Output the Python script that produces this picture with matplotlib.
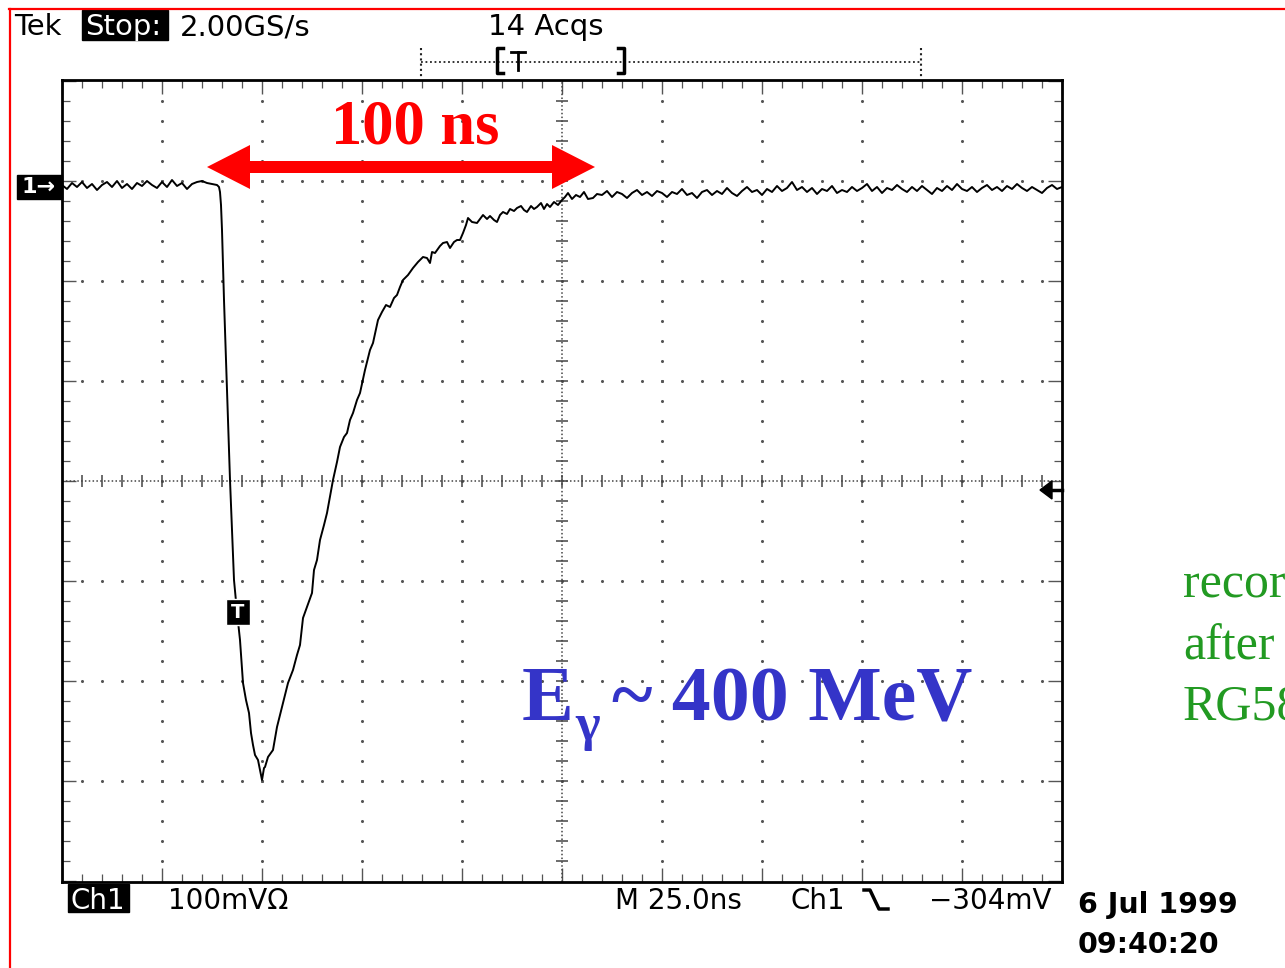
import numpy as np
import matplotlib.pyplot as plt
import matplotlib.patches as mpatches
from matplotlib.lines import Line2D
from matplotlib.transforms import Affine2D

W, H = 1285, 968

# scope trace: time in ns (25 ns/div), signal in mV (100 mV/div, 0 = screen centre)
base_t = [0, 1.25, 2.5, 3.75, 5, 6.25, 7.5, 8.75, 10, 11.25, 12.5, 13.75, 15, 16.25, 17.5, 18.75,
          20, 21.25, 22.5, 23.75, 25, 26.25, 27.5, 28.75, 30, 31.25, 32.5, 33.75, 35, 36.25, 37.5, 38.75]
base_v = [296, 292, 298, 294, 299, 293, 297, 291, 296, 299, 294, 300, 293, 297, 292, 298,
          295, 300, 296, 293, 299, 294, 301, 295, 298, 292, 297, 299, 300, 298, 297, 296]

pulse_t = [39.25, 39.5, 39.75, 40.0, 40.5, 41.0, 41.5, 42.0, 42.5, 43.0, 43.75, 44.5, 45.25, 46.0,
           46.75, 47.25, 47.75, 48.25, 49.0, 49.5, 50.0, 50.5, 50.75, 51.5, 52.75, 53.75, 55.0,
           55.75, 56.5, 57.75, 58.75, 59.5, 60.25, 61.25, 62.5, 63.0, 63.75, 64.5, 65.5, 66.25,
           67.75, 68.75, 69.5, 70.5, 71.25, 72.0, 72.75, 73.75, 74.5, 75.75, 77.0, 77.75, 79.0,
           80.0, 81.0, 82.0, 83.0, 83.75, 84.5, 85.25, 86.5, 87.75, 89.0, 90.25, 91.25, 92.0,
           92.5, 93.25, 94.5, 95.25, 96.25, 97.0, 98.0, 98.75, 99.5, 100.25, 101.0, 101.5, 102.5,
           103.75, 104.5, 105.25, 106.25, 107.0, 108.0, 108.75, 109.5, 110.25, 111.25, 112.0,
           113.0, 113.75, 114.75, 115.5, 116.25, 117.25, 118.0, 118.75, 119.75, 120.5, 121.25,
           122.0, 123.0, 124.0, 125.0, 125.75, 126.5, 127.5, 128.5, 129.5, 130.5, 131.5, 132.75,
           133.75]
pulse_v = [294, 289, 276, 251, 181, 121, 61, 1, -49, -99, -131, -159, -202, -219,
           -232, -252, -264, -274, -279, -289, -299, -287, -286, -276, -269, -246, -226,
           -214, -202, -189, -174, -164, -137, -126, -112, -89, -79, -59, -44, -32,
           1, 19, 34, 44, 48, 61, 68, 81, 88, 111, 131, 138, 161,
           169, 176, 174, 183, 186, 194, 201, 206, 213, 219, 224, 223, 218,
           229, 228, 235, 238, 239, 233, 239, 241, 241, 248, 256, 263, 259,
           258, 262, 266, 262, 265, 261, 259, 266, 269, 267, 272,
           270, 273, 275, 271, 269, 275, 272, 274, 278, 272, 277,
           274, 279, 276, 281, 284, 288, 282, 286, 284, 289, 282, 283,
           287]

tail_t = [135, 136.25, 137.5, 138.75, 140, 141.25, 142.5, 143.75, 145, 146.25, 147.5, 148.75,
          150, 151.25, 152.5, 153.75, 155, 156.25, 157.5, 158.75, 160, 161.25, 162.5, 163.75,
          165, 166.25, 167.5, 168.75, 170, 171.25, 172.5, 173.75, 175, 176.25, 177.5, 178.75,
          180, 181.25, 182.5, 183.75, 185, 186.25, 187.5, 188.75, 190, 191.25, 192.5, 193.75,
          195, 196.25, 197.5, 198.75, 200, 201.25, 202.5, 203.75, 205, 206.25, 207.5, 208.75,
          210, 211.25, 212.5, 213.75, 215, 216.25, 217.5, 218.75, 220, 221.25, 222.5, 223.75,
          225, 226.25, 227.5, 228.75, 230, 231.25, 232.5, 233.75, 235, 236.25, 237.5, 238.75,
          240, 241.25, 242.5, 243.75, 245, 246.25, 247.5, 248.75, 250]
tail_v = [286, 290, 284, 289, 287, 283, 288, 291, 286, 289, 285, 290,
          288, 284, 289, 287, 292, 286, 288, 283, 289, 291, 286, 290,
          287, 293, 288, 285, 290, 294, 289, 291, 286, 292, 289, 295,
          290, 293, 299, 291, 294, 289, 293, 287, 292, 290, 295, 288,
          291, 289, 294, 290, 293, 297, 290, 294, 288, 293, 291, 296,
          292, 289, 294, 290, 295, 291, 287, 293, 290, 295, 291, 297,
          292, 290, 294, 289, 293, 296, 291, 294, 290, 295, 292, 297,
          293, 290, 294, 291, 288, 293, 296, 292, 294]

# labels on the scope screen and on the slide
header_tek = "Tek"
header_state = "Stop:"
header_rate = "2.00GS/s"
header_acqs = "14 Acqs"
ch_label = "Ch1"
ch_scale = "100mVΩ"
time_base = "M 25.0ns"
trig_src = "Ch1"
trig_level = "−304mV"
date_lines = ["6 Jul 1999", "09:40:20"]
span_label = "100 ns"
energy_label = "~ 400 MeV"
note_lines = ["recorded", "after", "RG58"]

t = np.concatenate([base_t, pulse_t, tail_t])
v = np.concatenate([base_v, pulse_v, tail_v])

fig = plt.figure(figsize=(W / 100, H / 100), dpi=100)
fig.patch.set_facecolor('white')
# pixel coordinates measured from the top-left corner
pix = Affine2D().scale(1.0 / W, -1.0 / H).translate(0, 1) + fig.transFigure

ax = fig.add_axes([62 / W, 1 - 882 / H, 1000 / W, 802 / H])
ax.set_xlim(0, 250)
ax.set_ylim(-401, 401)
for s in ax.spines.values():
    s.set_linewidth(2)
ax.set_xticks(np.arange(0, 251, 25))
ax.set_xticks(np.arange(0, 251, 5), minor=True)
ax.set_yticks(np.arange(-400, 401, 100))
ax.set_yticks(np.arange(-400, 401, 20), minor=True)
ax.tick_params(which='both', direction='in', top=True, right=True,
               labelbottom=False, labelleft=False, color='#555')
ax.tick_params(which='major', length=10, width=1.0)
ax.tick_params(which='minor', length=6, width=0.9)

# graticule dots
gx = [x for x in np.arange(25, 250, 25) if x != 125]
gy = np.arange(-380, 400, 20)
xx, yy = np.meshgrid(gx, gy)
ax.plot(xx.ravel(), yy.ravel(), ls='none', marker='o', ms=2.2, mew=0, color='#555')
hy = [y for y in np.arange(-300, 301, 100) if y != 0]
hx = np.arange(5, 250, 5)
xx, yy = np.meshgrid(hx, hy)
ax.plot(xx.ravel(), yy.ravel(), ls='none', marker='o', ms=2.2, mew=0, color='#555')

# centre cross with tick marks
ax.plot([0, 250], [0, 0], ls=(0, (1, 1.5)), lw=1.1, color='#444')
ax.plot([125, 125], [-401, 401], ls=(0, (1, 1.5)), lw=1.1, color='#444')
ax.plot(hx, np.zeros(len(hx)), ls='none', marker='|', ms=9, mew=1.1, color='#444')
ax.plot(np.full(len(gy), 125), gy, ls='none', marker='_', ms=9, mew=1.1, color='#444')

# trace
ax.plot(t, v, color='black', lw=1.4)

# red double arrow spanning 100 ns
L, R, y0 = 36.25, 133.25, 314
hl, hw, sw = 10.75, 22, 6
arrow = mpatches.Polygon([(L, y0), (L + hl, y0 + hw), (L + hl, y0 + sw), (R - hl, y0 + sw),
                          (R - hl, y0 + hw), (R, y0), (R - hl, y0 - hw), (R - hl, y0 - sw),
                          (L + hl, y0 - sw), (L + hl, y0 - hw)],
                         closed=True, color='red', lw=0, clip_on=False, zorder=5)
ax.add_patch(arrow)
ax.text(88.25, 338, span_label, ha='center', va='baseline', fontsize=45,
        family='Liberation Serif', weight='bold', color='red', zorder=6)

# energy label
blue = '#3434c8'
fig.text(522, 720, "E", transform=pix, fontsize=56, family='Liberation Serif',
         weight='bold', color=blue, va='baseline')
fig.text(575, 740, "γ", transform=pix, fontsize=38, family='Liberation Serif',
         weight='bold', color=blue, va='baseline')
fig.text(612, 720, energy_label, transform=pix, fontsize=56, family='Liberation Serif',
         weight='bold', color=blue, va='baseline')

# green note, cut off by the page edge as on the slide
for i, line in enumerate(note_lines):
    fig.text(1183, 598 + 61 * i, line, transform=pix, fontsize=36, family='Liberation Serif',
             color='#229a22', va='baseline')

# red page frame
fig.add_artist(Line2D([9, W], [9, 9], transform=pix, color='red', lw=1.6))
fig.add_artist(Line2D([10, 10], [9, H], transform=pix, color='red', lw=1.6))

# header
fig.text(14, 35, header_tek, transform=pix, fontsize=21, va='baseline')
fig.add_artist(mpatches.Rectangle((82, 10), 86, 30, transform=pix, color='black'))
fig.text(85, 35, header_state, transform=pix, fontsize=21, va='baseline', color='white')
fig.text(180, 35, header_rate, transform=pix, fontsize=21, va='baseline')
fig.text(488, 35, header_acqs, transform=pix, fontsize=21, va='baseline')

# record-length bar
fig.add_artist(Line2D([421, 921], [62, 62], transform=pix, color='#222', lw=1.3, ls=(0, (1, 1.5))))
for x in (421, 921):
    fig.add_artist(Line2D([x, x], [48, 77], transform=pix, color='#222', lw=1.5, ls=(0, (1, 1.5))))
fig.add_artist(Line2D([503, 497, 497, 503], [48, 48, 73, 73], transform=pix, color='black', lw=2.5))
fig.add_artist(Line2D([618, 624, 624, 618], [48, 48, 73, 73], transform=pix, color='black', lw=2.5))
fig.add_artist(Line2D([511, 525], [52, 52], transform=pix, color='black', lw=2))
fig.add_artist(Line2D([518, 518], [52, 70], transform=pix, color='black', lw=2))

# ground marker "1->"
fig.add_artist(mpatches.Rectangle((17, 175), 45, 24, transform=pix, color='black'))
fig.text(39, 187, "1→", transform=pix, fontsize=16, color='white', ha='center', va='center',
         weight='bold')

# trigger position marker on the trace
fig.add_artist(mpatches.Rectangle((226, 599), 24, 26, transform=pix, facecolor='black',
                                  edgecolor='white', lw=1))
fig.text(238, 612, "T", transform=pix, fontsize=14, color='white', ha='center', va='center',
         weight='bold')

# trigger level arrow on the right edge
fig.add_artist(mpatches.Polygon([(1040, 490), (1052, 481), (1052, 499)], closed=True,
                                transform=pix, color='black'))
fig.add_artist(Line2D([1050, 1062], [490, 490], transform=pix, color='black', lw=2.5))

# footer
fig.add_artist(mpatches.Rectangle((68, 884), 61, 28, transform=pix, color='black'))
fig.text(70, 909, ch_label, transform=pix, fontsize=20, va='baseline', color='white')
fig.text(168, 909, ch_scale, transform=pix, fontsize=20, va='baseline')
fig.text(615, 909, time_base, transform=pix, fontsize=20, va='baseline')
fig.text(790, 909, trig_src, transform=pix, fontsize=20, va='baseline')
fig.add_artist(Line2D([864, 870, 879, 888], [890, 890, 909, 909], transform=pix,
                      color='black', lw=2.5))
fig.text(1052, 909, trig_level, transform=pix, fontsize=20, va='baseline', ha='right')
fig.text(1078, 913, date_lines[0], transform=pix, fontsize=20.5, va='baseline', weight='bold')
fig.text(1078, 953, date_lines[1], transform=pix, fontsize=20.5, va='baseline', weight='bold')

fig.savefig('out.png', dpi=100)
